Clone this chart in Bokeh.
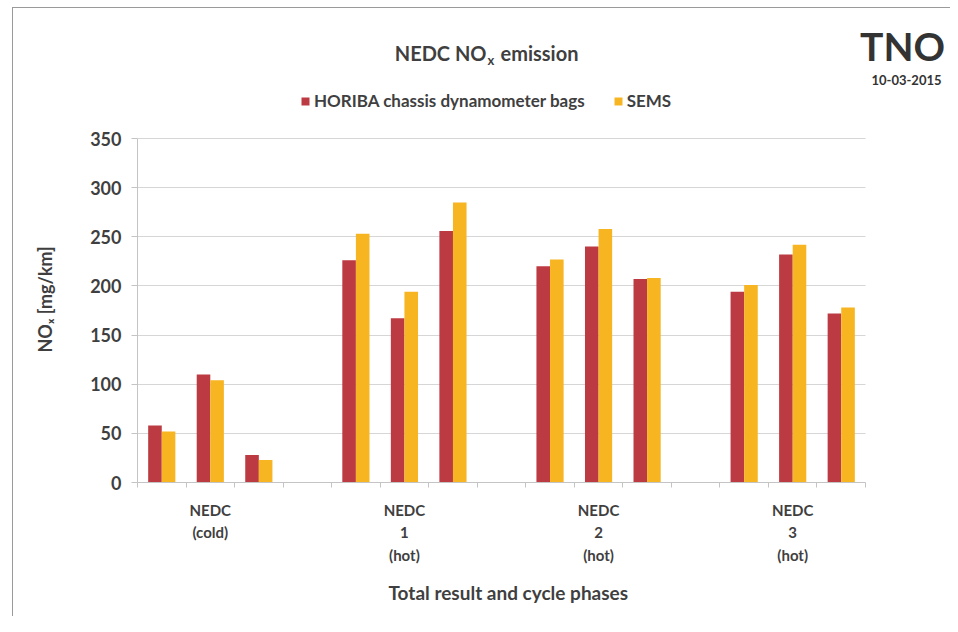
from bokeh.plotting import figure
from bokeh.models import Label, Legend, LegendItem, FixedTicker, Range1d, ColumnDataSource, Title
from bokeh.embed import file_html
from bokeh.resources import INLINE

# ---------------- data ----------------
group_labels = ["NEDC\n(cold)", "NEDC\n1\n(hot)", "NEDC\n2\n(hot)", "NEDC\n3\n(hot)"]
horiba = [58, 110, 28, 226, 167, 256, 220, 240, 207, 194, 232, 172]
sems = [52, 104, 23, 253, 194, 285, 227, 258, 208, 201, 242, 178]
y_ticks = [0, 50, 100, 150, 200, 250, 300, 350]
series_names = ["HORIBA chassis dynamometer bags", "SEMS"]
title_parts = ["NEDC NO", "x", "emission"]
ylabel = "NO\u2093 [mg/km]"
xlabel = "Total result and cycle phases"
logo_text = "TNO"
date_text = "10-03-2015"

RED = "#BC3A42"
YEL = "#F7B522"
TXT = "#3f3f3f"
FONT = "Lato"

# slot layout: 3 bars per group then one empty slot
slots = [g * 4 + k + 1 for g in range(4) for k in range(3)]
n_slots = 15
off = 0.14
bw = 0.28
src = ColumnDataSource(dict(
    xr=[s - off for s in slots], xy=[s + off for s in slots],
    horiba=horiba, sems=sems))

W, H = 950, 616
PL, PB = 137, 482            # plot-area left edge / zero line (px)
SLOT_PX = 728 / n_slots      # px per slot
UNIT_PX = 344 / 350          # px per mg/km
x_end = 0.5 + (W - PL) / SLOT_PX
y_end = PB / UNIT_PX

p = figure(width=W, height=H, output_backend="svg", toolbar_location=None,
           x_range=Range1d(0.5, x_end), y_range=Range1d(0, y_end),
           min_border_left=PL, min_border_top=0,
           min_border_right=0, min_border_bottom=H - PB,
           styles={"background": "white",
                   "box-shadow": "inset 12px 7px 0 0 white, inset 13px 8px 0 0 #9a9a9a"})
p.outline_line_color = None
p.background_fill_alpha = 0
p.border_fill_alpha = 0

r1 = p.vbar(x="xr", top="horiba", width=bw, source=src, fill_color=RED, line_color=None)
r2 = p.vbar(x="xy", top="sems", width=bw, source=src, fill_color=YEL, line_color=None)

# grid
p.xgrid.grid_line_color = None
p.ygrid.grid_line_color = "#d6d6d6"
p.ygrid.grid_line_width = 1
p.ygrid.cross_bounds = (0.5, n_slots + 0.5)

# y axis
p.yaxis.ticker = FixedTicker(ticks=y_ticks)
p.yaxis.bounds = (0, 350)
p.yaxis.axis_line_color = "#c4c4c4"
p.yaxis.major_tick_line_color = "#c4c4c4"
p.yaxis.major_tick_out = 6
p.yaxis.major_tick_in = 0
p.yaxis.minor_tick_line_color = None
p.yaxis.major_label_text_font = FONT
p.yaxis.major_label_text_font_style = "bold"
p.yaxis.major_label_text_font_size = "18px"
p.yaxis.major_label_text_color = TXT
p.yaxis.major_label_standoff = 10

# x axis
centers = [g * 4 + 2 for g in range(4)]
p.xaxis.ticker = FixedTicker(ticks=centers, minor_ticks=[i + 0.5 for i in range(n_slots + 1)])
p.xaxis.bounds = (0.5, n_slots + 0.5)
p.xaxis.major_label_overrides = {c: lab for c, lab in zip(centers, group_labels)}
p.xaxis.axis_line_color = "#c4c4c4"
p.xaxis.major_tick_line_color = None
p.xaxis.minor_tick_line_color = "#c4c4c4"
p.xaxis.minor_tick_out = 5
p.xaxis.minor_tick_in = 0
p.xaxis.major_label_text_font = FONT
p.xaxis.major_label_text_font_style = "bold"
p.xaxis.major_label_text_font_size = "15px"
p.xaxis.major_label_text_color = TXT
p.xaxis.major_label_text_line_height = 1.25
p.xaxis.major_label_standoff = 12

# axis titles as side-panel titles (so they can sit off-centre like the original)
p.add_layout(Title(text=ylabel, align="left", offset=130, standoff=62,
                   vertical_align="middle", text_font=FONT, text_font_style="bold",
                   text_font_size="18px", text_color=TXT), "left")
p.add_layout(Title(text=xlabel, align="left", offset=251, standoff=24,
                   vertical_align="bottom", text_font=FONT, text_font_style="bold",
                   text_font_size="19px", text_color=TXT), "below")


def dx(px):
    return 0.5 + (px - PL) / SLOT_PX


def dy(py):
    return (PB - py) / UNIT_PX


def lab(x, y, text, size, align="left", baseline="alphabetic", color=TXT, font=FONT):
    p.add_layout(Label(x=dx(x), y=dy(y), text=text, text_font=font,
                       text_font_style="bold", text_font_size=size,
                       text_align=align, text_baseline=baseline,
                       text_color=color))


# title with subscript
lab(486, 52, title_parts[0], "20px", align="right")
lab(487, 59, title_parts[1], "13px", align="left")
lab(500, 52, title_parts[2], "20px", align="left")

# logo + date
lab(902, 45, logo_text, "39px", align="center", color="#333333")
lab(906, 79, date_text, "13px", align="center", color="#333333")

# legend
legend = Legend(items=[LegendItem(label=series_names[0], renderers=[r1]),
                       LegendItem(label=series_names[1], renderers=[r2])],
                orientation="horizontal", location=(163, 371),
                glyph_width=10, glyph_height=10, label_standoff=4, spacing=28,
                padding=0, margin=0, border_line_color=None,
                background_fill_alpha=0,
                label_text_font=FONT, label_text_font_style="bold",
                label_text_font_size="17px", label_text_color=TXT)
p.add_layout(legend, "center")

open("out.html", "w").write(file_html(p, INLINE))
